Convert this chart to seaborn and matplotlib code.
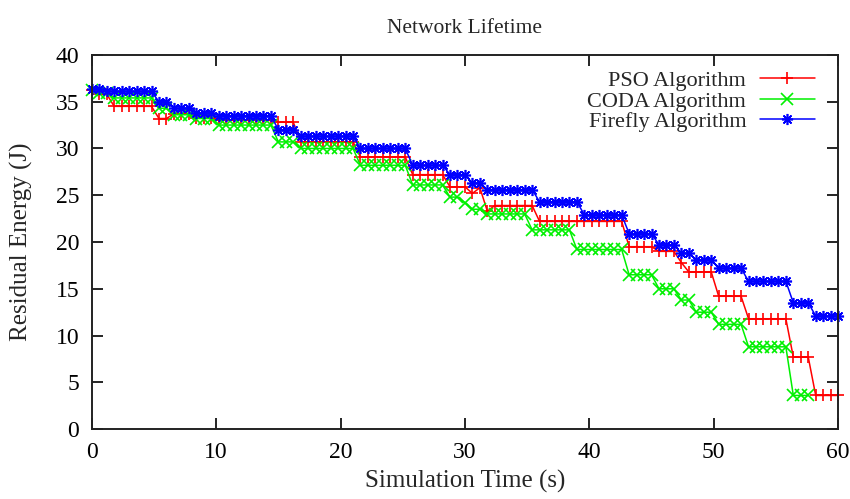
import numpy as np
import pandas as pd
import matplotlib
matplotlib.use("Agg")
import matplotlib.pyplot as plt
import seaborn as sns

# Temps de simulation (un point toutes les 0.6 s)
temps = np.linspace(0, 60, 101)

# Paliers : niveau (J) et nombre de points par palier
pso_niveaux = [36.3, 35.8, 34.5, 33.2, 33.7, 33.3, 33.0, 32.8, 30.7, 29.1, 27.2, 25.9, 25.2,
               25.8, 23.3, 23.9, 22.2, 19.5, 19.0, 17.8, 16.8, 14.2, 11.8, 7.7, 3.6]
pso_points = [1, 2, 6, 2, 3, 3, 8, 3, 8, 7, 5, 3, 1, 1, 1, 6, 12, 4, 3, 1, 4, 4, 6, 3, 4]

coda_niveaux = [36.3, 35.9, 35.4, 34.3, 33.6, 33.2, 32.5, 30.7, 30.0, 28.2, 26.1, 24.8, 24.2,
                23.5, 23.0, 21.3, 19.2, 16.5, 15.0, 13.8, 12.5, 11.2, 8.8, 3.6]
coda_points = [1, 2, 6, 2, 3, 3, 8, 3, 8, 7, 5, 2, 1, 2, 6, 6, 7, 4, 3, 2, 3, 4, 6, 3]

firefly_niveaux = [36.4, 36.1, 35.0, 34.3, 33.8, 33.5, 32.0, 31.3, 30.0, 28.2, 27.2, 26.3, 25.6,
                   24.3, 22.9, 20.9, 19.7, 18.8, 18.1, 17.2, 15.8, 13.5, 12.1]
firefly_points = [2, 7, 2, 3, 3, 8, 3, 8, 7, 5, 3, 2, 7, 6, 6, 4, 3, 2, 3, 4, 6, 3, 4]

algos = ["PSO Algorithm", "CODA Algorithm", "Firefly Algorithm"]
couleurs = ["#ff0000", "#00f000", "#0000ff"]
marqueurs = ["+", "x", (8, 2, 0)]

sns.set_style("ticks")
plt.rcParams["font.family"] = ["Liberation Serif", "DejaVu Serif"]

fig = plt.figure(figsize=(8.5, 4.99), dpi=100)
ax = fig.add_axes([0.108, 0.140, 0.878, 0.750])

for nom, niv, pts, coul, mk in zip(algos, [pso_niveaux, coda_niveaux, firefly_niveaux],
                                   [pso_points, coda_points, firefly_points],
                                   couleurs, marqueurs):
    energie = np.repeat(niv, pts)
    d = pd.DataFrame({"temps": temps[:len(energie)], "energie": energie})
    sns.lineplot(data=d, x="temps", y="energie", color=coul, label=nom,
                 marker=mk, markersize=8, markeredgewidth=1.2, markeredgecolor=coul,
                 linewidth=1.1, estimator=None, sort=False, clip_on=False, ax=ax)

ax.set_xlim(0, 60)
ax.set_ylim(0, 40)
ax.set_xticks(range(0, 61, 10))
ax.set_yticks(range(0, 41, 5))
ax.tick_params(direction="in", length=8, width=1.2, labelsize=17,
               top=True, right=True, colors="black")
ax.tick_params(axis="x", pad=9)
ax.tick_params(axis="y", pad=9)
for s in ax.spines.values():
    s.set_linewidth(1.4)
    s.set_color("#222222")

ax.set_title("Network Lifetime", fontsize=15.5, pad=16)
ax.set_xlabel("Simulation Time (s)", fontsize=18, labelpad=5)
ax.set_ylabel("Residual Energy (J)", fontsize=18, labelpad=16)

handles, labels = ax.get_legend_handles_labels()
ax.legend(handles, labels, loc="upper right", bbox_to_anchor=(0.99, 1.0),
          frameon=False, markerfirst=False,
          fontsize=16, handlelength=2.5, labelspacing=0.0, borderaxespad=0.3,
          handletextpad=0.6)

plt.savefig("out.png", dpi=100)
plt.close()
